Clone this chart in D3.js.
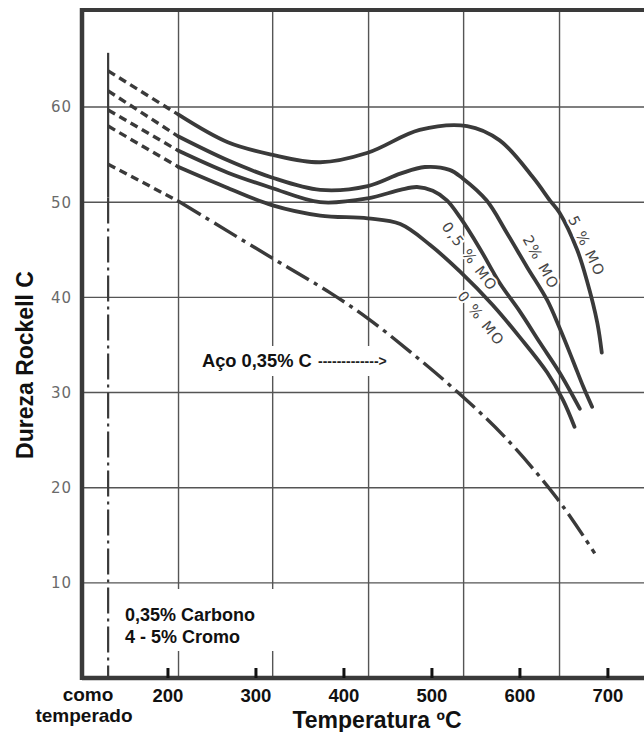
<!DOCTYPE html>
<html>
<head>
<meta charset="utf-8">
<script src="https://cdn.jsdelivr.net/npm/d3@7"></script>
<style>
  body { margin: 0; background: #fff; }
  svg { display: block; }
</style>
</head>
<body>
<div id="chart"></div>
<script>

// axis values
var tempTicks = [200, 300, 400, 500, 600, 700];
var hardTicks = [10, 20, 30, 40, 50, 60];
var gridTemps = [212, 319, 428, 536, 645, 753];   // grid is not aligned with the labels
var quenchT = 132;          // "como temperado" column
var solidFrom = 212;        // curves are dashed before this

// hardness curves (Rockwell C) per molybdenum content
var mo5Temp = [132, 212, 268, 318, 373, 427, 486, 540, 577, 615, 634, 645, 665, 676, 688, 693];
var mo5Hard = [63.8, 59.2, 56.3, 55.0, 54.2, 55.2, 57.6, 58.0, 56.5, 52.6, 50.2, 48.9, 45.0, 41.8, 37.3, 34.2];

var mo2Temp = [132, 212, 268, 318, 373, 427, 464, 492, 520, 535, 562, 585, 608, 631, 645, 660, 672, 682];
var mo2Hard = [61.7, 56.9, 54.4, 52.6, 51.3, 51.7, 53.0, 53.7, 53.4, 52.5, 50.2, 46.8, 43.2, 39.7, 36.8, 33.4, 30.6, 28.5];

var mo05Temp = [132, 212, 268, 318, 373, 427, 464, 483, 501, 517, 532, 554, 577, 600, 623, 645, 668];
var mo05Hard = [59.7, 55.4, 53.1, 51.5, 50.0, 50.4, 51.3, 51.6, 51.2, 50.2, 48.4, 45.2, 41.5, 38.5, 35.2, 32.1, 28.3];

var mo0Temp = [132, 212, 268, 318, 373, 427, 464, 498, 532, 569, 600, 631, 649, 662];
var mo0Hard = [58.0, 53.7, 51.5, 49.7, 48.6, 48.3, 47.7, 45.5, 42.7, 39.2, 35.8, 32.1, 29.2, 26.4];

// plain 0,35% C steel (dash-dot)
var steelTemp = [132, 212, 319, 384, 427, 475, 526, 581, 642, 685];
var steelHard = [54.0, 50.1, 44.1, 40.5, 37.8, 34.3, 30.3, 25.5, 18.9, 13.1];

var curveLabels = ["5 % MO", "2% MO", "0,5 % MO", "0 % MO"];

var W = 644, H = 732;

var svg = d3.select("#chart").append("svg").attr("width", W).attr("height", H);

var x = d3.scaleLinear().domain([102.3, 741]).range([82, 644]);
var y = d3.scaleLinear().domain([0, 70.2]).range([678, 10]);

var ink = "#3a3a3a";

// grid
svg.append("g").selectAll("line").data(hardTicks).enter().append("line")
  .attr("x1", x(102.3)).attr("x2", W)
  .attr("y1", function(d) { return y(d); }).attr("y2", function(d) { return y(d); })
  .attr("stroke", "#555").attr("stroke-width", 1.4);

svg.append("g").selectAll("line").data(gridTemps).enter().append("line")
  .attr("x1", function(d) { return x(d); }).attr("x2", function(d) { return x(d); })
  .attr("y1", y(70.2)).attr("y2", y(0))
  .attr("stroke", "#555").attr("stroke-width", 1.4);

// white patches under the annotations (they break the grid in the scan)
svg.append("rect").attr("x", 196).attr("y", 346).attr("width", 200).attr("height", 30).attr("fill", "#fff");
svg.append("rect").attr("x", 118).attr("y", 589).attr("width", 166).attr("height", 62).attr("fill", "#fff");

// "como temperado" column line
svg.append("line")
  .attr("x1", x(quenchT)).attr("x2", x(quenchT))
  .attr("y1", y(65.7)).attr("y2", y(50.5))
  .attr("stroke", ink).attr("stroke-width", 2.2);
svg.append("line")
  .attr("x1", x(quenchT)).attr("x2", x(quenchT))
  .attr("y1", y(50.5)).attr("y2", y(0))
  .attr("stroke", ink).attr("stroke-width", 2.2)
  .attr("stroke-dasharray", "26,5,3,5");

var line = d3.line()
  .x(function(d) { return x(d[0]); })
  .y(function(d) { return y(d[1]); })
  .curve(d3.curveCatmullRom.alpha(0.5));

function drawCurve(temps, hards, solidDash) {
  var pts = d3.zip(temps, hards);
  var dashed = pts.filter(function(d) { return d[0] <= solidFrom; });
  var solid = pts.filter(function(d) { return d[0] >= solidFrom; });
  svg.append("path").attr("d", d3.line()(dashed.map(function(d) { return [x(d[0]), y(d[1])]; })))
    .attr("fill", "none").attr("stroke", ink).attr("stroke-width", 3.4)
    .attr("stroke-dasharray", "8,5");
  var p = svg.append("path").attr("d", line(solid))
    .attr("fill", "none").attr("stroke", ink).attr("stroke-width", 3.8)
    .attr("stroke-linecap", "round");
  if (solidDash) p.attr("stroke-dasharray", solidDash).attr("stroke-linecap", "butt").attr("stroke-width", 3.4);
}

drawCurve(mo5Temp, mo5Hard);
drawCurve(mo2Temp, mo2Hard);
drawCurve(mo05Temp, mo05Hard);
drawCurve(mo0Temp, mo0Hard);
drawCurve(steelTemp, steelHard, "26,6,4,6");

// frame
svg.append("line").attr("x1", x(102.3)).attr("x2", W).attr("y1", y(70.2)).attr("y2", y(70.2))
  .attr("stroke", ink).attr("stroke-width", 4);
svg.append("line").attr("x1", x(102.3)).attr("x2", W).attr("y1", y(0)).attr("y2", y(0))
  .attr("stroke", ink).attr("stroke-width", 4.5);
svg.append("line").attr("x1", x(102.3)).attr("x2", x(102.3)).attr("y1", y(70.2) - 2).attr("y2", y(0) + 2)
  .attr("stroke", ink).attr("stroke-width", 4.5);

// x ticks + labels
svg.append("g").selectAll("line").data(tempTicks).enter().append("line")
  .attr("x1", function(d) { return x(d); }).attr("x2", function(d) { return x(d); })
  .attr("y1", y(0) - 10).attr("y2", y(0))
  .attr("stroke", "#111").attr("stroke-width", 3);

var boldFont = "'Liberation Sans', Arial, sans-serif";

svg.append("g").selectAll("text").data(tempTicks).enter().append("text")
  .attr("x", function(d) { return x(d); }).attr("y", 702)
  .attr("text-anchor", "middle")
  .attr("font-family", boldFont).attr("font-weight", "bold").attr("font-size", 18.5)
  .attr("fill", "#111")
  .text(function(d) { return d; });

svg.append("text").attr("x", 88).attr("y", 701).attr("text-anchor", "middle")
  .attr("font-family", boldFont).attr("font-weight", "bold").attr("font-size", 19).attr("fill", "#111")
  .text("como");
svg.append("text").attr("x", 84).attr("y", 722).attr("text-anchor", "middle")
  .attr("font-family", boldFont).attr("font-weight", "bold").attr("font-size", 19).attr("fill", "#111")
  .text("temperado");

// y tick labels
svg.append("g").selectAll("text").data(hardTicks).enter().append("text")
  .attr("x", 72).attr("y", function(d) { return y(d); }).attr("dy", "0.36em")
  .attr("text-anchor", "end")
  .attr("font-family", "'DejaVu Sans', sans-serif").attr("font-size", 15).attr("letter-spacing", 1)
  .attr("fill", "#6a6a6a")
  .text(function(d) { return d; });

// axis titles
svg.append("text").attr("transform", "translate(33," + 365 + ") rotate(-90)")
  .attr("text-anchor", "middle")
  .attr("font-family", boldFont).attr("font-weight", "bold").attr("font-size", 23).attr("fill", "#111")
  .text("Dureza Rockell C");
svg.append("text").attr("x", 377).attr("y", 728).attr("text-anchor", "middle")
  .attr("font-family", boldFont).attr("font-weight", "bold").attr("font-size", 23).attr("fill", "#111")
  .text("Temperatura ºC");

// annotations
svg.append("text").attr("x", 202).attr("y", 367)
  .attr("font-family", boldFont).attr("font-weight", "bold").attr("font-size", 18.3).attr("fill", "#111")
  .text("Aço 0,35% C");
svg.append("text").attr("x", 318).attr("y", 366)
  .attr("font-family", boldFont).attr("font-weight", "bold").attr("font-size", 14).attr("fill", "#222")
  .text("------------->");

svg.append("text").attr("x", 125).attr("y", 621)
  .attr("font-family", boldFont).attr("font-weight", "bold").attr("font-size", 18).attr("fill", "#111")
  .text("0,35% Carbono");
svg.append("text").attr("x", 125).attr("y", 643)
  .attr("font-family", boldFont).attr("font-weight", "bold").attr("font-size", 18).attr("fill", "#111")
  .text("4 - 5% Cromo");

// rotated curve labels, positions in data units
var labelT = [676, 624, 543, 556];
var labelH = [45.4, 43.7, 44.3, 37.8];
var labelAngle = [64, 61, 53, 51];

svg.append("g").selectAll("text").data(curveLabels).enter().append("text")
  .attr("transform", function(d, i) {
    return "translate(" + x(labelT[i]) + "," + y(labelH[i]) + ") rotate(" + labelAngle[i] + ")";
  })
  .attr("text-anchor", "middle").attr("dy", "0.36em")
  .attr("font-family", "'DejaVu Sans', sans-serif").attr("font-size", 14.5).attr("letter-spacing", 1.5)
  .attr("fill", "#454545")
  .attr("stroke", "#fff").attr("stroke-width", 4).attr("paint-order", "stroke")
  .text(function(d) { return d; });

</script>
</body>
</html>
